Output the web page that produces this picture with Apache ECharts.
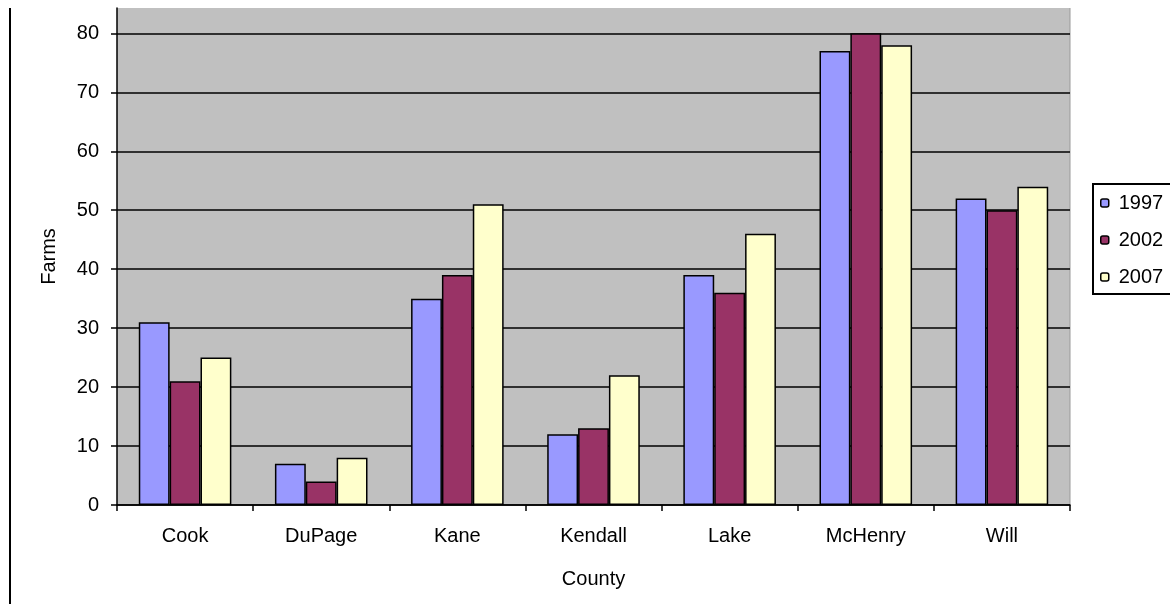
<!DOCTYPE html>
<html>
<head>
<meta charset="utf-8">
<script src="https://cdn.jsdelivr.net/npm/echarts@6/dist/echarts.min.js"></script>
<style>
  html, body { margin: 0; padding: 0; background: #fff; }
  #chart { width: 1170px; height: 604px; }
</style>
</head>
<body>
<div id="chart"></div>
<script>
// Farms by county, Census years 1997 / 2002 / 2007
const counties = ['Cook', 'DuPage', 'Kane', 'Kendall', 'Lake', 'McHenry', 'Will'];
const years = ['1997', '2002', '2007'];
const farms1997 = [31, 7, 35, 12, 39, 77, 52];
const farms2002 = [21, 4, 39, 13, 36, 80, 50];
const farms2007 = [25, 8, 51, 22, 46, 78, 54];
const yTicks = [0, 10, 20, 30, 40, 50, 60, 70, 80];

const seriesValues = [farms1997, farms2002, farms2007];
const seriesColors = ['#9999FF', '#993366', '#FFFFCC'];
const FONT = '"Liberation Sans", Arial, sans-serif';

const chart = echarts.init(document.getElementById('chart'), null, { renderer: 'canvas' });

chart.setOption({
  animation: false,
  backgroundColor: '#ffffff',
  textStyle: { fontFamily: FONT, color: '#000' },
  grid: {
    left: 117, right: 100, top: 8, bottom: 99,
    show: true, backgroundColor: '#C0C0C0', borderWidth: 0
  },
  legend: {
    data: years,
    orient: 'vertical',
    left: 1093, top: 184,
    padding: [9, 40, 7, 7],
    itemWidth: 8, itemHeight: 8,
    itemGap: 17,
    borderColor: '#000', borderWidth: 2,
    backgroundColor: '#fff',
    itemStyle: { borderColor: '#000', borderWidth: 1.5 },
    textStyle: { fontFamily: FONT, fontSize: 20, color: '#000', padding: [0, 0, 0, 5] }
  },
  xAxis: {
    type: 'category',
    data: counties,
    name: 'County',
    nameLocation: 'middle',
    nameGap: 64,
    nameTextStyle: { fontFamily: FONT, fontSize: 20, color: '#000' },
    axisLine: { lineStyle: { color: '#000', width: 1.5 } },
    axisTick: { show: true, length: 6, lineStyle: { color: '#000', width: 1.5 } },
    axisLabel: { fontFamily: FONT, fontSize: 20, color: '#000', margin: 21 },
    splitLine: { show: false }
  },
  yAxis: {
    type: 'value',
    min: yTicks[0],
    max: 84.3,
    interval: yTicks[1] - yTicks[0],
    name: 'Farms',
    nameLocation: 'middle',
    nameRotate: 90,
    nameGap: 58,
    nameTextStyle: { fontFamily: FONT, fontSize: 20, color: '#000' },
    axisLine: { show: true, lineStyle: { color: '#000', width: 1.5 } },
    axisTick: { show: true, length: 6, lineStyle: { color: '#000', width: 1.5 } },
    axisLabel: {
      fontFamily: FONT, fontSize: 20, color: '#000', margin: 18,
      showMaxLabel: false,
      formatter: v => (yTicks.includes(v) ? String(v) : '')
    },
    splitLine: { show: true, showMaxLine: false, lineStyle: { color: '#000', width: 1.5 } }
  },
  series: years.map((y, i) => ({
    name: y,
    type: 'bar',
    data: seriesValues[i],
    barGap: '0%',
    barCategoryGap: '32%',
    itemStyle: { color: seriesColors[i], borderColor: '#000', borderWidth: 1.5 }
  })),
  graphic: [
    {
      type: 'line', silent: true,
      shape: { x1: 10, y1: 8, x2: 10, y2: 604 },
      style: { stroke: '#000', lineWidth: 2 }
    },
    {
      type: 'line', silent: true,
      shape: { x1: 1070, y1: 8, x2: 1070, y2: 505 },
      style: { stroke: '#9a9a9a', lineWidth: 1 }
    }
  ]
});
</script>
</body>
</html>
